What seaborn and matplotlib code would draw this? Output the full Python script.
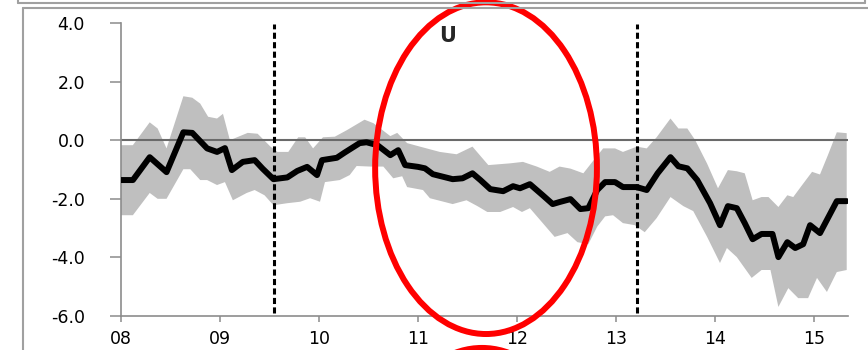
import numpy as np
import matplotlib
matplotlib.use("Agg")
import matplotlib.pyplot as plt
from matplotlib.patches import Ellipse
from matplotlib.lines import Line2D
import seaborn as sns

# central estimate (black line), time in years since 2000
line_t = [8.00, 8.12, 8.29, 8.46, 8.63, 8.72, 8.87, 8.97, 9.05, 9.12, 9.23, 9.35,
          9.43, 9.54, 9.68, 9.78, 9.88, 9.98, 10.03, 10.18, 10.26, 10.41, 10.48, 10.59,
          10.72, 10.80, 10.87, 11.00, 11.07, 11.15, 11.35, 11.45, 11.55, 11.63, 11.73, 11.86,
          11.96, 12.03, 12.13, 12.26, 12.36, 12.43, 12.54, 12.64, 12.72, 12.81, 12.89, 12.99,
          13.07, 13.14, 13.21, 13.31, 13.42, 13.55, 13.63, 13.72, 13.82, 13.95, 14.05, 14.13,
          14.22, 14.30, 14.38, 14.47, 14.58, 14.64, 14.73, 14.81, 14.89, 14.96, 15.06, 15.23,
          15.33]
line_v = [-1.36, -1.36, -0.58, -1.09, 0.27, 0.25, -0.28, -0.40, -0.27, -1.02, -0.74, -0.68,
          -0.97, -1.33, -1.27, -1.05, -0.91, -1.19, -0.68, -0.60, -0.42, -0.10, -0.07, -0.17,
          -0.51, -0.34, -0.85, -0.91, -0.96, -1.16, -1.33, -1.30, -1.13, -1.36, -1.67, -1.74,
          -1.57, -1.64, -1.50, -1.88, -2.18, -2.11, -2.01, -2.35, -2.32, -1.70, -1.43, -1.43,
          -1.60, -1.60, -1.60, -1.70, -1.13, -0.58, -0.89, -0.96, -1.36, -2.15, -2.90, -2.25,
          -2.32, -2.83, -3.38, -3.20, -3.20, -3.99, -3.48, -3.68, -3.55, -2.90, -3.17, -2.08,
          -2.08]

# upper edge of the grey band
upper_t = [8.00, 8.12, 8.29, 8.37, 8.46, 8.63, 8.72, 8.80, 8.88, 8.97, 9.03, 9.10,
           9.28, 9.38, 9.51, 9.58, 9.69, 9.79, 9.86, 9.94, 10.04, 10.16, 10.28, 10.46,
           10.55, 10.72, 10.79, 10.89, 11.02, 11.22, 11.39, 11.55, 11.71, 11.93, 12.06, 12.20,
           12.33, 12.43, 12.54, 12.67, 12.77, 12.87, 12.99, 13.07, 13.21, 13.31, 13.41, 13.55,
           13.63, 13.72, 13.80, 13.92, 14.03, 14.13, 14.22, 14.30, 14.38, 14.47, 14.54, 14.64,
           14.73, 14.79, 14.88, 14.98, 15.06, 15.14, 15.23, 15.33]
upper_v = [-0.17, -0.17, 0.61, 0.40, -0.28, 1.50, 1.45, 1.25, 0.80, 0.74, 0.90, 0.00,
           0.25, 0.22, -0.22, -0.40, -0.40, 0.10, 0.10, -0.28, 0.10, 0.12, 0.34, 0.70,
           0.58, 0.14, 0.25, -0.10, -0.22, -0.40, -0.48, -0.22, -0.85, -0.79, -0.74, -0.90,
           -1.08, -0.90, -0.97, -1.13, -0.70, -0.28, -0.28, -0.40, -0.22, -0.28, 0.10, 0.74,
           0.40, 0.40, 0.00, -0.80, -1.64, -1.02, -1.06, -1.13, -2.05, -1.94, -1.94, -2.28,
           -1.88, -1.94, -1.53, -1.08, -1.17, -0.51, 0.27, 0.24]

# lower edge of the grey band
lower_t = [8.00, 8.12, 8.29, 8.37, 8.46, 8.63, 8.70, 8.80, 8.87, 8.97, 9.05, 9.13,
           9.27, 9.35, 9.45, 9.54, 9.68, 9.81, 9.91, 10.01, 10.06, 10.21, 10.31, 10.38,
           10.52, 10.65, 10.75, 10.84, 10.89, 11.05, 11.12, 11.27, 11.35, 11.49, 11.60, 11.70,
           11.83, 11.96, 12.05, 12.13, 12.26, 12.38, 12.51, 12.61, 12.72, 12.81, 12.89, 12.97,
           13.07, 13.19, 13.29, 13.41, 13.55, 13.68, 13.78, 13.92, 14.05, 14.12, 14.22, 14.37,
           14.47, 14.56, 14.64, 14.74, 14.84, 14.94, 15.03, 15.13, 15.23, 15.33]
lower_v = [-2.56, -2.56, -1.80, -2.00, -2.00, -0.99, -0.99, -1.36, -1.36, -1.53, -1.43, -2.05,
           -1.80, -1.70, -1.88, -2.22, -2.15, -2.10, -1.98, -2.10, -1.43, -1.36, -1.19, -0.88,
           -0.90, -0.90, -1.30, -1.23, -1.60, -1.70, -1.98, -2.11, -2.18, -2.05, -2.25, -2.45,
           -2.45, -2.28, -2.45, -2.32, -2.83, -3.30, -3.17, -3.48, -3.55, -2.95, -2.60, -2.56,
           -2.83, -2.90, -3.14, -2.66, -1.94, -2.25, -2.42, -3.30, -4.19, -3.68, -3.99, -4.70,
           -4.43, -4.43, -5.69, -5.05, -5.39, -5.39, -4.70, -5.18, -4.50, -4.43]

x_ticks = [8, 9, 10, 11, 12, 13, 14, 15]
x_labels = ["08", "09", "10", "11", "12", "13", "14", "15"]
y_ticks = [-6, -4, -2, 0, 2, 4]
y_labels = ["-6.0", "-4.0", "-2.0", "0.0", "2.0", "4.0"]
break_dates = [9.545, 13.21]
mark_label = "U"

sns.set_style("white")
plt.rcParams["font.family"] = ["DejaVu Sans"]

W, H = 868, 350
fig = plt.figure(figsize=(W / 100, H / 100), dpi=100)
ax = fig.add_axes([121 / W, 1 - 316 / H, 727 / W, 293 / H])

# grey band
band_x = np.concatenate([upper_t, lower_t[::-1]])
band_y = np.concatenate([upper_v, lower_v[::-1]])
ax.fill(band_x, band_y, color="#bfbfbf", lw=0, zorder=1)

ax.axhline(0, color="#6a6a6a", lw=1.5, zorder=2)

sns.lineplot(x=line_t, y=line_v, ax=ax, color="black", linewidth=4.3,
             sort=False, estimator=None, zorder=3)

for d in break_dates:
    ax.plot([d, d], [-5.9, 3.95], color="black", lw=2.2,
            linestyle=(0, (2, 1.1)), zorder=4)

ax.text(11.30, 3.55, mark_label, ha="center", va="center",
        fontsize=15, fontweight="bold", zorder=5)

# red hand-drawn style circles
ax.add_patch(Ellipse((11.687, -0.955), 2.24, 11.32, fill=False, ec="#ff0000",
                     lw=4.3, clip_on=False, zorder=6))
ax.add_patch(Ellipse((11.646, -12.75), 2.24, 11.32, fill=False, ec="#ff0000",
                     lw=4.3, clip_on=False, zorder=6))

ax.set_xlim(8, 15.343)
ax.set_ylim(-6, 4)
ax.set_xticks(x_ticks)
ax.set_xticklabels(x_labels)
ax.set_yticks(y_ticks)
ax.set_yticklabels(y_labels)
ax.set_xlabel("")
ax.set_ylabel("")

for s in ["top", "right"]:
    ax.spines[s].set_visible(False)
for s in ["left", "bottom"]:
    ax.spines[s].set_color("#8c8c8c")
    ax.spines[s].set_linewidth(1.2)

ax.tick_params(axis="y", direction="out", length=8, width=1.1, color="#8c8c8c",
               pad=18, labelsize=12.5, labelcolor="black", left=True)
ax.tick_params(axis="x", direction="out", length=4, width=1.1, color="#8c8c8c",
               pad=6, labelsize=12.5, labelcolor="black", bottom=True)

# surrounding frame lines
grey = "#a0a0a0"
def fline(x0, y0, x1, y1):
    fig.add_artist(Line2D([x0 / W, x1 / W], [1 - y0 / H, 1 - y1 / H],
                          transform=fig.transFigure, color=grey, lw=1.5))

fline(18, 3, 865, 3)
fline(18, 3, 18, 0)
fline(865, 3, 865, 0)
fline(23, 8, 868, 8)
fline(23, 8, 23, 350)

fig.savefig("out.png", dpi=100)
